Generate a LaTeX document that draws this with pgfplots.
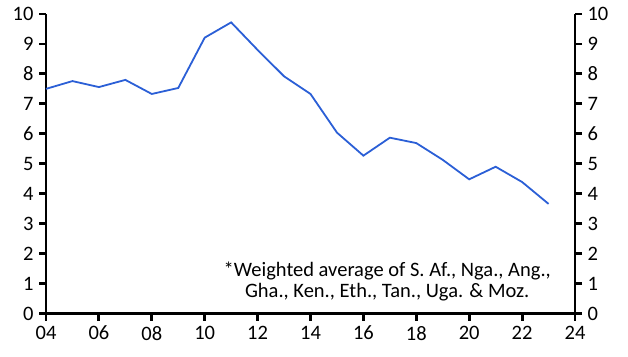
\documentclass[border=0pt]{standalone}
\usepackage{fontspec}
\setmainfont{Carlito}
\usepackage{pgfplots}
\pgfplotsset{compat=1.18}
\definecolor{lineblue}{HTML}{2B5FD6}
\begin{document}
\begin{tikzpicture}[x=1pt,y=1pt]
\path (0,0) rectangle (628,356);
\pgfplotsset{
  common/.style={
    at={(46pt,42.5pt)}, anchor=south west,
    scale only axis, width=529pt, height=299.5pt,
    xmin=2004, xmax=2024, ymin=0, ymax=10,
    ytick={0,...,10},
    tick align=outside,
    major tick length=7pt,
    every tick/.style={black, line width=2.8pt},
    axis line style={black, line width=2.8pt},
    ticklabel style={font=\fontsize{20.5}{22}\selectfont},
    /pgf/number format/assume math mode=true,
    clip=false,
  }
}
\begin{axis}[common,
  axis x line*=bottom, axis y line*=left,
  xtick={2004,2006,...,2024},
  xticklabels={04,06,08,10,12,14,16,18,20,22,24},
  xticklabel style={yshift=-2pt},
  yticklabel style={xshift=-2pt},
]
\addplot[lineblue, line width=1.8pt, mark=none] coordinates {
(2004,7.50) (2005,7.76) (2006,7.56) (2007,7.80) (2008,7.33) (2009,7.53)
(2010,9.21) (2011,9.72) (2012,8.80) (2013,7.92) (2014,7.33) (2015,6.04)
(2016,5.27) (2017,5.87) (2018,5.69) (2019,5.13) (2020,4.48) (2021,4.90)
(2022,4.39) (2023,3.66)
};
\node[anchor=base, font=\fontsize{20.5}{22}\selectfont, inner sep=0pt] at (axis cs:2016.9,1.22) {*Weighted average of S. Af., Nga., Ang.,};
\node[anchor=base, font=\fontsize{20.5}{22}\selectfont, inner sep=0pt] at (axis cs:2016.9,0.52) {Gha., Ken., Eth., Tan., Uga. \& Moz.};
\end{axis}
\begin{axis}[common,
  axis x line=none, axis y line*=right,
  ytick pos=right, yticklabel pos=right,
  yticklabel style={xshift=2pt},
]
\end{axis}
\end{tikzpicture}
\end{document}
